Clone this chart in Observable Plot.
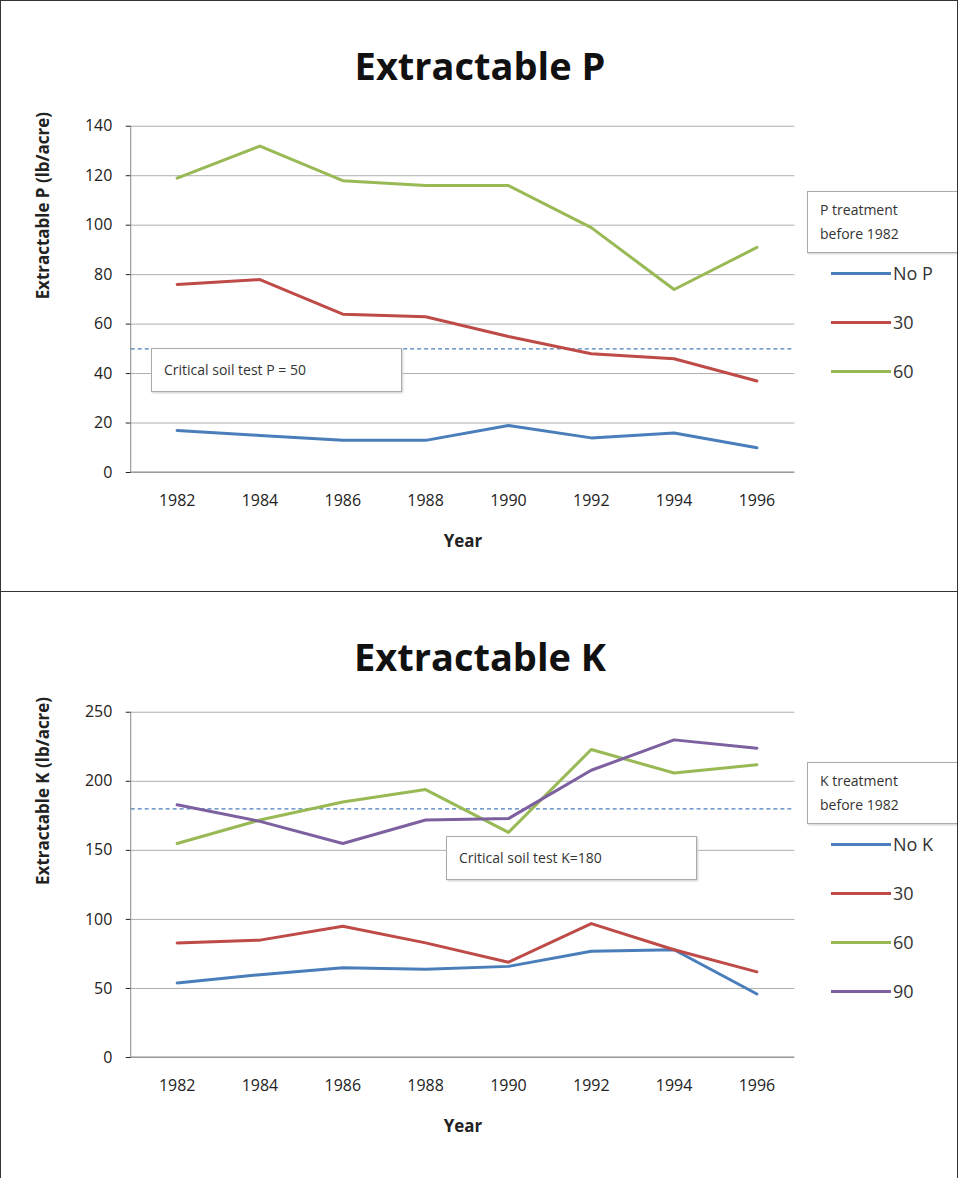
<!DOCTYPE html>
<html><head><meta charset="utf-8">
<script src="https://cdn.jsdelivr.net/npm/d3@7"></script>
<script src="https://cdn.jsdelivr.net/npm/@observablehq/plot@0.6"></script>
<style>
body{margin:0;font-family:"Open Sans",sans-serif;background:#fff}
.panel{position:relative;width:956px;height:590px;border:1px solid #333;overflow:hidden}
.title{position:absolute;left:0;width:958px;text-align:center;font-weight:bold;font-size:38px;color:#111}
.box{position:absolute;background:#fff;border:1px solid #aaa;font-size:14px;color:#333;padding:6px 12px;box-shadow:1px 1px 2px #ccc}
.leg{position:absolute;font-size:18px;color:#333;display:flex;align-items:center}
.leg span{display:inline-block;width:60px;height:3px;margin-right:2px}
</style></head>
<body><div id="wrap"></div>
<script>
const years = [1982,1984,1986,1988,1990,1992,1994,1996];
const pNoP = [17,15,13,13,19,14,16,10];
const p30 = [76,78,64,63,55,48,46,37];
const p60 = [119,132,118,116,116,99,74,91];
const kNoK = [54,60,65,64,66,77,78,46];
const k30 = [83,85,95,83,69,97,78,62];
const k60 = [155,172,185,194,163,223,206,212];
const k90 = [183,171,155,172,173,208,230,224];
const colors = {"No":"#4a7ebb","30":"#be4b48","60":"#98b954","90":"#7d60a0"};

function rows(series){
  return series.flatMap(([name,vals]) => vals.map((v,i) => ({year:years[i], v, name})));
}

function panel(opts){
  const div = document.createElement("div");
  div.className = "panel";
  const data = rows(opts.series);
  const chart = Plot.plot({
    width: 958, height: 590,
    marginLeft: 130, marginRight: 163, marginTop: opts.top, marginBottom: 590 - opts.bottom,
    style: {fontFamily: "Open Sans, sans-serif", fontSize: "16px", color: "#222"},
    x: {type: "point", domain: years, range: [175, 757], padding: 0, label: null},
    y: {domain: [0, opts.max], ticks: opts.ticks, label: null},
    marks: [
      Plot.gridY(opts.ticks, {stroke: "#999", strokeOpacity: 0.8}),
      Plot.axisY(opts.ticks, {tickSize: 5, fontSize: 16, tickPadding: 14}),
      Plot.axisX(years, {tickSize: 0, fontSize: 16, tickPadding: 22, tickFormat: d => String(d)}),
      Plot.ruleY([opts.crit], {stroke: "#4a7ebb", strokeDasharray: "4,3", strokeWidth: 1.3}),
      Plot.line(data, {x: "year", y: "v", z: "name", stroke: d => colors[d.name.split(" ")[0]], strokeWidth: 3}),
      Plot.text(["Year"], {frameAnchor: "bottom", dy: 75, fontWeight: "bold", fontSize: 17}),
      Plot.text([opts.ylabel], {frameAnchor: "left", rotate: -90, dx: -88, fontWeight: "bold", fontSize: 17})
    ]
  });
  div.append(chart);
  const svg = d3.select(chart);
  svg.append("line").attr("x1",130).attr("x2",130).attr("y1",opts.top).attr("y2",opts.bottom).attr("stroke","#888");
  svg.append("line").attr("x1",130).attr("x2",795).attr("y1",opts.bottom).attr("y2",opts.bottom).attr("stroke","#888");
  div.insertAdjacentHTML("beforeend",
    `<div class="title" style="top:${opts.titleTop}px">${opts.title}</div>` +
    `<div class="box" style="left:${opts.ann[0]}px;top:${opts.ann[1]}px;width:${opts.ann[2]}px;height:30px;line-height:30px">${opts.annText}</div>` +
    `<div class="box" style="left:806px;top:${opts.legTop}px;width:125px;line-height:24px">${opts.legTitle}</div>` +
    opts.series.map(([name],i) => `<div class="leg" style="left:830px;top:${opts.legTop+70+i*49}px"><span style="background:${colors[name.split(" ")[0]]}"></span>${name}</div>`).join(""));
  return div;
}

const wrap = document.getElementById("wrap");
wrap.append(panel({
  title: "Extractable P", titleTop: 38, top: 125, bottom: 472, max: 140, ticks: d3.range(0,141,20),
  series: [["No P",pNoP],["30",p30],["60",p60]], crit: 50, ylabel: "Extractable P (lb/acre)",
  ann: [150,347,225], annText: "Critical soil test P = 50",
  legTop: 190, legTitle: "P treatment<br>before 1982"
}));
const k = panel({
  title: "Extractable K", titleTop: 38, top: 120, bottom: 466, max: 250, ticks: d3.range(0,251,50),
  series: [["No K",kNoK],["30",k30],["60",k60],["90",k90]], crit: 180, ylabel: "Extractable K (lb/acre)",
  ann: [445,244,225], annText: "Critical soil test K=180",
  legTop: 170, legTitle: "K treatment<br>before 1982"
});
k.style.borderTop = "none";
wrap.append(k);
</script></body></html>
